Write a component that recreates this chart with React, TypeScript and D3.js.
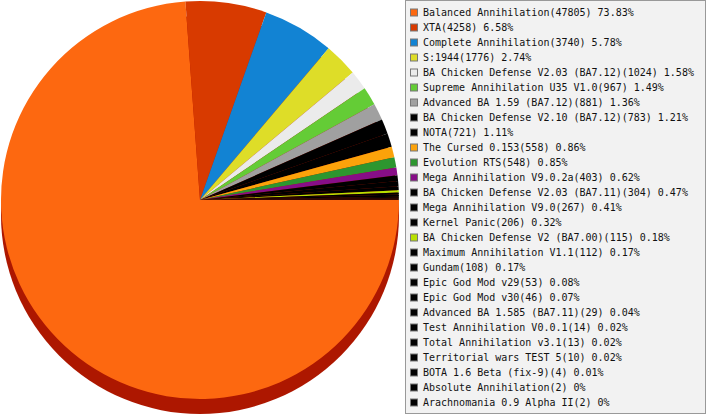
import React, { useEffect, useRef } from "react"
import * as d3 from "d3"

const mods = [
  "Balanced Annihilation",
  "XTA",
  "Complete Annihilation",
  "S:1944",
  "BA Chicken Defense V2.03 (BA7.12)",
  "Supreme Annihilation U35 V1.0",
  "Advanced BA 1.59 (BA7.12)",
  "BA Chicken Defense V2.10 (BA7.12)",
  "NOTA",
  "The Cursed 0.153",
  "Evolution RTS",
  "Mega Annihilation V9.0.2a",
  "BA Chicken Defense V2.03 (BA7.11)",
  "Mega Annihilation V9.0",
  "Kernel Panic",
  "BA Chicken Defense V2 (BA7.00)",
  "Maximum Annihilation V1.1",
  "Gundam",
  "Epic God Mod v29",
  "Epic God Mod v30",
  "Advanced BA 1.585 (BA7.11)",
  "Test Annihilation V0.0.1",
  "Total Annihilation v3.1",
  "Territorial wars TEST 5",
  "BOTA 1.6 Beta (fix-9)",
  "Absolute Annihilation",
  "Arachnomania 0.9 Alpha II",
]

const games = [
  47805, 4258, 3740, 1776, 1024, 967, 881, 783, 721, 558, 548, 403, 304, 267,
  206, 115, 112, 108, 53, 46, 29, 14, 13, 10, 4, 2, 2,
]

const shares = [
  "73.83%", "6.58%", "5.78%", "2.74%", "1.58%", "1.49%", "1.36%", "1.21%",
  "1.11%", "0.86%", "0.85%", "0.62%", "0.47%", "0.41%", "0.32%", "0.18%",
  "0.17%", "0.17%", "0.08%", "0.07%", "0.04%", "0.02%", "0.02%", "0.02%",
  "0.01%", "0%", "0%",
]

const colors = [
  "#fd6810", "#d83a00", "#1283d3", "#dedd28", "#ebebeb", "#64cc36",
  "#a0a0a0", "#000000", "#000000", "#fba20a", "#2d962f", "#870e87",
  "#000000", "#000000", "#000000", "#b8e000", "#000000", "#000000",
  "#000000", "#000000", "#000000", "#000000", "#000000", "#000000",
  "#000000", "#000000", "#000000",
]

const App = () => {
  const chart = useRef<SVGSVGElement | null>(null)

  useEffect(() => {
    const svg = d3.select(chart.current)
    svg.selectAll("*").remove()

    const cx = 200
    const cy = 200
    const r = 199
    const depth = 15

    const data = mods.map((m, i) => ({ name: m, value: games[i], color: colors[i] }))

    // start at 3 o'clock, go clockwise
    const pie = d3
      .pie<{ name: string; value: number; color: string }>()
      .sort(null)
      .value((d) => d.value)
      .startAngle(Math.PI / 2)
      .endAngle(Math.PI / 2 + Math.PI * 2)

    const arc = d3
      .arc<d3.PieArcDatum<{ name: string; value: number; color: string }>>()
      .innerRadius(0)
      .outerRadius(r)

    // side of the "3d" pie
    svg
      .append("circle")
      .attr("cx", cx)
      .attr("cy", cy + depth)
      .attr("r", r)
      .attr("fill", "#ad1700")

    svg
      .append("g")
      .attr("transform", `translate(${cx},${cy})`)
      .selectAll("path")
      .data(pie(data))
      .join("path")
      .attr("d", arc)
      .attr("fill", (d) => d.data.color)

    // legend
    const legend = svg.append("g")
    legend
      .append("rect")
      .attr("x", 405.5)
      .attr("y", 0.5)
      .attr("width", 300)
      .attr("height", 413)
      .attr("fill", "#f2f2f2")
      .attr("stroke", "#999")

    const y = d3
      .scaleLinear()
      .domain([0, mods.length - 1])
      .range([12.5, 12.5 + 15 * (mods.length - 1)])

    const rows = legend
      .selectAll("g.row")
      .data(data)
      .join("g")
      .attr("class", "row")
      .attr("transform", (d, i) => `translate(0,${y(i)})`)

    rows
      .append("rect")
      .attr("x", 410.5)
      .attr("y", -3.5)
      .attr("width", 7)
      .attr("height", 7)
      .attr("fill", (d) => d.color)
      .attr("stroke", "#777")

    rows
      .append("text")
      .attr("x", 423)
      .attr("y", 3.6)
      .attr("font-family", "DejaVu Sans Mono, monospace")
      .attr("font-size", 10)
      .attr("fill", "#111")
      .text((d, i) => `${d.name}(${games[i]}) ${shares[i]}`)
  }, [])

  return (
    <svg
      ref={chart}
      width={707}
      height={415}
      style={{ position: "absolute", left: 0, top: 0, background: "#fff" }}
    ></svg>
  )
}

export default App
